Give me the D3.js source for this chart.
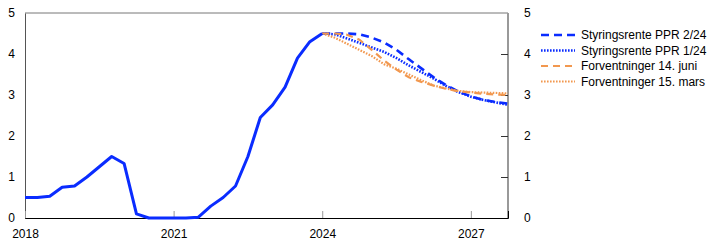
<!DOCTYPE html>
<html>
<head>
<meta charset="utf-8">
<style>
  body { margin: 0; background: #fff; }
  svg { display: block; font-family: "Liberation Sans", Arial, sans-serif; }
</style>
</head>
<body>
<svg id="chart" width="722" height="248"></svg>
<script src="https://d3js.org/d3.v7.min.js"></script>
<script>
// quarters from 2018 Q1 (index 0) to 2027 Q4 (index 39)
const startYear = 2018;
const tickYears = [2018, 2021, 2024, 2027];
const yTicks = [0, 1, 2, 3, 4, 5];

// policy rate, history 2018 Q1 - 2024 Q1
const history = [0.5, 0.5, 0.53, 0.75, 0.78, 1.0, 1.25, 1.5, 1.33, 0.1,
    0, 0, 0, 0, 0.02, 0.29, 0.5, 0.78, 1.5, 2.45,
    2.76, 3.19, 3.9, 4.3, 4.5];

// forecasts, 2024 Q1 - 2027 Q4
const ppr224 = [4.5, 4.5, 4.5, 4.48, 4.4, 4.28, 4.1, 3.87, 3.65, 3.43, 3.24, 3.08, 2.97, 2.88, 2.83, 2.79];
const ppr124 = [4.5, 4.48, 4.38, 4.27, 4.16, 4.05, 3.9, 3.72, 3.56, 3.4, 3.22, 3.07, 2.96, 2.88, 2.82, 2.76];
const fwdJune = [4.5, 4.5, 4.47, 4.35, 4.1, 3.84, 3.62, 3.43, 3.32, 3.23, 3.15, 3.09, 3.06, 3.03, 3.01, 3.0];
const fwdMarch = [4.5, 4.4, 4.25, 4.1, 3.95, 3.75, 3.64, 3.5, 3.36, 3.23, 3.16, 3.1, 3.07, 3.06, 3.05, 3.04];
const forecastStart = 24;

const blue = "#0a2cff";
const orange = "#f2984f";

const series = [
    { name: "Styringsrente PPR 2/24", values: ppr224, color: blue, width: 2.6, dash: "8,5" },
    { name: "Styringsrente PPR 1/24", values: ppr124, color: blue, width: 2.6, dash: "1.6,1.4" },
    { name: "Forventninger 14. juni", values: fwdJune, color: orange, width: 2.2, dash: "7,5" },
    { name: "Forventninger 15. mars", values: fwdMarch, color: orange, width: 2.2, dash: "1.6,1.4" }
];

const svg = d3.select("#chart");
const mLeft = 25, mRight = 508, mTop = 13, mBottom = 218;

const x = d3.scaleLinear().domain([startYear, startYear + 39 / 4]).range([mLeft, mRight]);
const y = d3.scaleLinear().domain([0, 5]).range([mBottom, mTop]);
const q = i => startYear + i / 4;

// frame
svg.append("line").attr("x1", mLeft).attr("x2", mRight).attr("y1", mTop).attr("y2", mTop)
    .attr("stroke", "#777").attr("stroke-width", 1);
svg.append("line").attr("x1", mRight).attr("x2", mRight).attr("y1", mTop).attr("y2", mBottom)
    .attr("stroke", "#999").attr("stroke-width", 2);

// left axis
const yl = svg.append("g").attr("transform", `translate(${mLeft},0)`)
    .call(d3.axisLeft(y).tickValues(yTicks).tickSize(0).tickPadding(10).tickFormat(d3.format("d")));
yl.select(".domain").attr("stroke", "#555");

// right axis
const yr = svg.append("g").attr("transform", `translate(${mRight},0)`)
    .call(d3.axisRight(y).tickValues(yTicks).tickSize(-7).tickPadding(16).tickFormat(d3.format("d")));
yr.select(".domain").remove();
yr.selectAll(".tick line").attr("stroke", "#333");
yr.selectAll(".tick").filter(d => d === 0 || d === 5).select("line").remove();

// bottom axis
const xa = svg.append("g").attr("transform", `translate(0,${mBottom})`)
    .call(d3.axisBottom(x).tickValues(tickYears).tickSize(-7).tickPadding(11).tickFormat(d3.format("d")));
xa.select(".domain").attr("stroke", "#000");
xa.selectAll(".tick line").attr("stroke", "#999");

svg.selectAll(".tick text").attr("font-size", 12).attr("fill", "#000")
    .attr("font-family", "Liberation Sans, Arial, sans-serif");

const line = d3.line().x(d => x(d[0])).y(d => y(d[1]));

// forecasts
series.forEach(s => {
    svg.append("path")
        .datum(s.values.map((v, i) => [q(forecastStart + i), v]))
        .attr("d", line)
        .attr("fill", "none")
        .attr("stroke", s.color)
        .attr("stroke-width", s.width)
        .attr("stroke-dasharray", s.dash);
});

// history
svg.append("path")
    .datum(history.map((v, i) => [q(i), v]))
    .attr("d", line)
    .attr("fill", "none")
    .attr("stroke", blue)
    .attr("stroke-width", 3)
    .attr("stroke-linejoin", "round");

// legend
const lg = svg.append("g").attr("transform", "translate(541,35)");
series.forEach((s, i) => {
    const row = lg.append("g").attr("transform", `translate(0,${i * 15.5})`);
    row.append("line").attr("x1", 0).attr("x2", 34).attr("y1", 0).attr("y2", 0)
        .attr("stroke", s.color).attr("stroke-width", s.width).attr("stroke-dasharray", s.dash);
    row.append("text").attr("x", 40).attr("y", 0).attr("dy", "0.36em")
        .attr("font-size", 12).text(s.name);
});
</script>
</body>
</html>
